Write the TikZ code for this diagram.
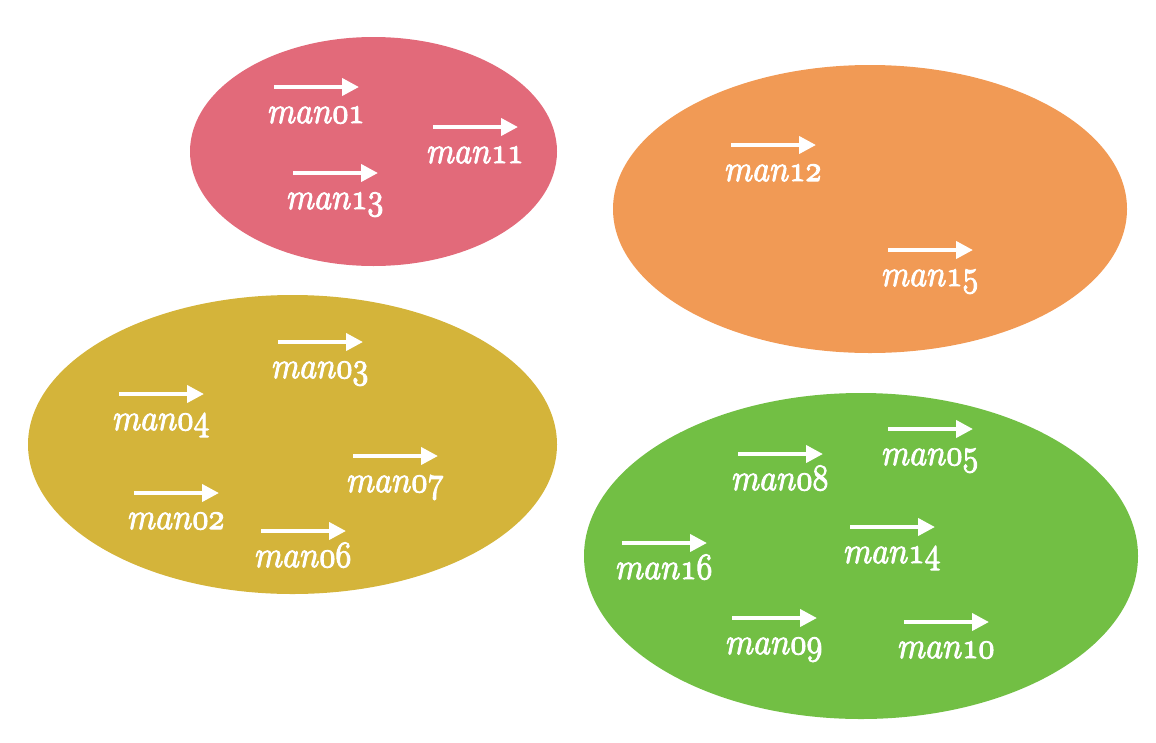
\documentclass[tikz,border=0pt]{standalone}
\usetikzlibrary{arrows.meta,calc}
\DeclareFontFamily{OML}{cmmx}{\skewchar\font'177}
\DeclareFontShape{OML}{cmmx}{m}{it}{<->cmmi10}{}
\newcommand{\oldnum}[1]{{\fontencoding{OML}\fontfamily{cmmx}\fontseries{m}\fontshape{it}\selectfont
  \special{pdf:literal 2 Tr 0.9 w}#1\special{pdf:literal 0 Tr}}}
\definecolor{cred}{RGB}{226,106,122}
\definecolor{corange}{RGB}{241,154,85}
\definecolor{cyellow}{RGB}{212,180,58}
\definecolor{cgreen}{RGB}{114,191,68}
\tikzset{
  vecarrow/.style={white, line width=4pt, -{Triangle[length=17pt,width=17pt]}},
  lab/.style={anchor=base west, inner sep=0pt, text=white, font=\fontsize{33}{40}\selectfont}
}
\newcommand{\manlab}[4]{%
  \coordinate (#1s) at (#2,#3);
  \coordinate (#1e) at ($(#2,#3)+(85,0)$);
  \draw[vecarrow] (#1s) -- (#1e);
  \node[lab] (#1) at ($(#2,#3)+(-6,36)$) {\scalebox{0.97}[1.12]{\oldnum{man#4}}};
}
\begin{document}
\begin{tikzpicture}[x=1pt,y=-1pt]
\useasboundingbox (0,0) rectangle (1156,742);
\fill[cred]    (373.5,151.5) ellipse [x radius=183.5, y radius=114.5];
\fill[corange] (870,209) ellipse [x radius=257, y radius=144];
\fill[cyellow] (292.5,444.5) ellipse [x radius=264.5, y radius=149.5];
\fill[cgreen]  (861,556) ellipse [x radius=277, y radius=163];
% red
\manlab{m01}{274}{87}{01}
\manlab{m11}{433}{127}{11}
\manlab{m13}{293}{173}{13}
% orange
\manlab{m12}{731}{145}{12}
\manlab{m15}{888}{250}{15}
% yellow
\manlab{m03}{278}{342}{03}
\manlab{m04}{119}{394}{04}
\manlab{m07}{353}{456}{07}
\manlab{m02}{134}{493}{02}
\manlab{m06}{261}{531}{06}
% green
\manlab{m08}{738}{454}{08}
\manlab{m05}{888}{429}{05}
\manlab{m16}{622}{543}{16}
\manlab{m14}{850}{527}{14}
\manlab{m09}{732}{618}{09}
\manlab{m10}{904}{622}{10}
\end{tikzpicture}
\end{document}
